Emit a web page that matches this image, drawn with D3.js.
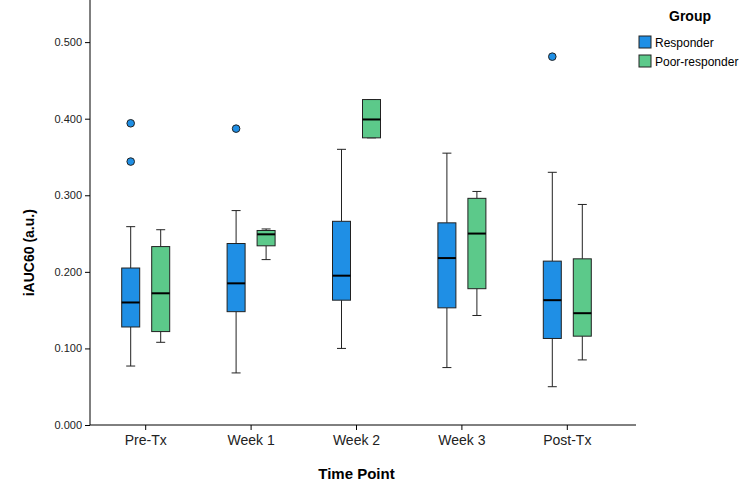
<!DOCTYPE html>
<html>
<head>
<script src="https://cdn.jsdelivr.net/npm/d3@7"></script>
<style>
body { margin: 0; background: #fff; font-family: Arial, "Liberation Sans", sans-serif; }
</style>
</head>
<body>
<script>
var categories = ["Pre-Tx", "Week 1", "Week 2", "Week 3", "Post-Tx"];
var groups = ["Responder", "Poor-responder"];
var colors = ["#1f8fe5", "#5cc98a"];
// [low, q1, median, q3, high]
var responderStats = [
  [0.077, 0.128, 0.160, 0.205, 0.259],
  [0.068, 0.148, 0.185, 0.237, 0.280],
  [0.100, 0.163, 0.195, 0.266, 0.360],
  [0.075, 0.153, 0.218, 0.264, 0.355],
  [0.050, 0.113, 0.163, 0.214, 0.330]
];
var poorStats = [
  [0.108, 0.122, 0.172, 0.233, 0.255],
  [0.216, 0.234, 0.249, 0.254, 0.256],
  [0.375, 0.375, 0.399, 0.425, 0.425],
  [0.143, 0.178, 0.250, 0.296, 0.305],
  [0.085, 0.116, 0.146, 0.217, 0.288]
];
var responderOutliers = [[0.394, 0.344], [0.387], [], [], [0.481]];
var poorOutliers = [[], [], [], [], []];
var yTicks = [0, 0.1, 0.2, 0.3, 0.4, 0.5];

var width = 750, height = 500;
var plotLeft = 90, plotRight = 636, plotBottom = 425;

var svg = d3.select("body").append("svg")
  .attr("width", width).attr("height", height);

var x = d3.scaleBand().domain(categories).range([93, 620]);
var y = d3.scaleLinear().domain([0, 0.555]).range([plotBottom, 0]);

var allStats = [responderStats, poorStats];
var allOut = [responderOutliers, poorOutliers];
var boxW = 18, offset = 15;

// axes
svg.append("g").attr("transform", "translate(" + plotLeft + ",0)")
  .call(d3.axisLeft(y).tickValues(yTicks).tickFormat(d3.format(".3f")).tickSize(5))
  .call(function(g) {
    g.select(".domain").attr("d", "M0," + y(0.555) + "V" + y(0));
    g.selectAll("text").style("font-size", "11px").attr("fill", "#222");
  });
svg.append("g").attr("transform", "translate(0," + y(0) + ")")
  .call(d3.axisBottom(x).tickSize(5))
  .call(function(g) {
    g.select(".domain").attr("d", "M" + plotLeft + ",0H" + plotRight);
    g.selectAll("text").style("font-size", "14px").attr("fill", "#222").attr("dy", "0.85em");
  });

svg.append("text").attr("transform", "translate(34," + y(0.225) + ") rotate(-90)")
  .attr("text-anchor", "middle").style("font-size", "14px").style("font-weight", "bold")
  .text("iAUC60 (a.u.)");
svg.append("text").attr("x", x("Week 2") + x.bandwidth() / 2).attr("y", 479)
  .attr("text-anchor", "middle").style("font-size", "15px").style("font-weight", "bold")
  .text("Time Point");

allStats.forEach(function(stats, gi) {
  var g = svg.append("g");
  stats.forEach(function(s, ci) {
    var cx = x(categories[ci]) + x.bandwidth() / 2 + (gi === 0 ? -offset : offset);
    g.append("line").attr("x1", cx).attr("x2", cx).attr("y1", y(s[0])).attr("y2", y(s[1])).attr("stroke", "#222");
    g.append("line").attr("x1", cx).attr("x2", cx).attr("y1", y(s[3])).attr("y2", y(s[4])).attr("stroke", "#222");
    [s[0], s[4]].forEach(function(v) {
      g.append("line").attr("x1", cx - 4.5).attr("x2", cx + 4.5).attr("y1", y(v)).attr("y2", y(v)).attr("stroke", "#222");
    });
    g.append("rect").attr("x", cx - boxW / 2).attr("width", boxW)
      .attr("y", y(s[3])).attr("height", y(s[1]) - y(s[3]))
      .attr("fill", colors[gi]).attr("stroke", "#222");
    g.append("line").attr("x1", cx - boxW / 2).attr("x2", cx + boxW / 2)
      .attr("y1", y(s[2])).attr("y2", y(s[2])).attr("stroke", "#000").attr("stroke-width", 2);
    allOut[gi][ci].forEach(function(v) {
      g.append("circle").attr("cx", cx).attr("cy", y(v)).attr("r", 3.8)
        .attr("fill", colors[gi]).attr("stroke", "#222");
    });
  });
});

// legend
svg.append("text").attr("x", 690).attr("y", 21).attr("text-anchor", "middle")
  .style("font-size", "14px").style("font-weight", "bold").text("Group");
groups.forEach(function(name, i) {
  svg.append("rect").attr("x", 639).attr("y", 36 + i * 19).attr("width", 12).attr("height", 12)
    .attr("fill", colors[i]).attr("stroke", "#222");
  svg.append("text").attr("x", 655).attr("y", 47 + i * 19)
    .style("font-size", "12px").text(name);
});
</script>
</body>
</html>
